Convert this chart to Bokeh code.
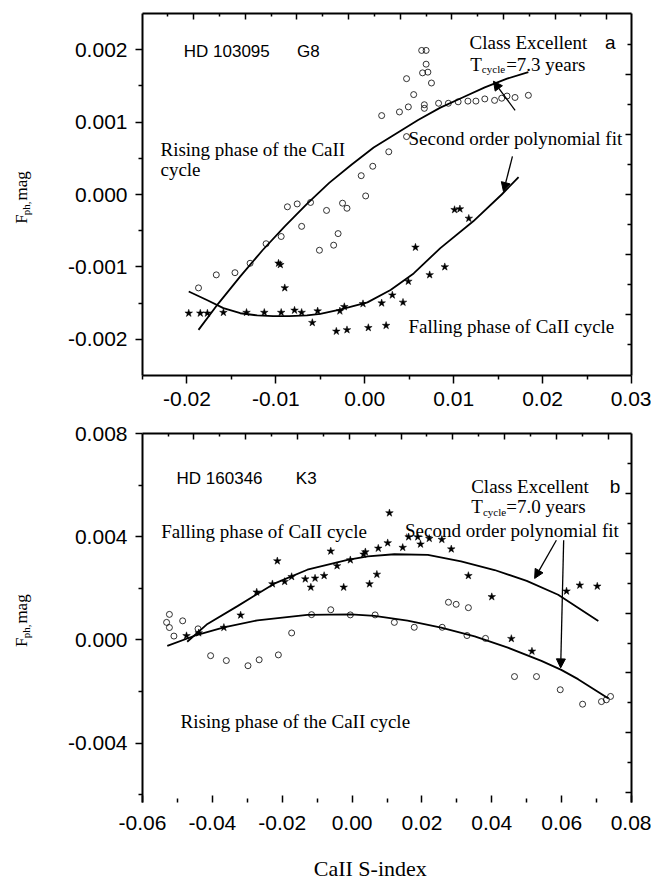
import numpy as np
from bokeh.plotting import figure
from bokeh.layouts import column, row
from bokeh.models import (Range1d, LinearAxis, FixedTicker, NumeralTickFormatter,
                          CustomJSTickFormatter, Label, Arrow, NormalHead)
from bokeh.core.properties import value
from bokeh.embed import file_html
from bokeh.resources import INLINE

# ---------------- Panel a : HD 103095 G8 ----------------
a_rise_x = [0.0064, 0.0069, 0.0069, 0.0065, 0.0071, 0.0075, 0.0047, 0.0055, 0.0019, 0.0039,
            0.0049, 0.0067, 0.0067, 0.0083, 0.0094, 0.0105, 0.0116, 0.0125, 0.0135, 0.0146,
            0.0154, 0.0160, 0.0169, 0.0184, 0.0047, 0.0027, 0.0009, -0.0004, 0.0001, -0.0087,
            -0.0076, -0.0061, -0.0043, -0.0025, -0.0020, -0.0071, -0.0094, -0.0111, -0.0129,
            -0.0030, -0.0035, -0.0051, -0.0146, -0.0167, -0.0187]
a_rise_y = [0.00199, 0.00199, 0.00180, 0.00168, 0.00169, 0.00154, 0.00160, 0.00138, 0.00109, 0.00114,
            0.00121, 0.00124, 0.00119, 0.00126, 0.00126, 0.00128, 0.00129, 0.00129, 0.00132, 0.00130,
            0.00133, 0.00136, 0.00134, 0.00137, 0.00080, 0.00059, 0.00039, 0.00026, -0.00002, -0.00017,
            -0.00013, -0.00011, -0.00022, -0.00012, -0.00019, -0.00044, -0.00058, -0.00068, -0.00095,
            -0.00054, -0.00070, -0.00077, -0.00108, -0.00111, -0.00129]

a_fall_x = [-0.0198, -0.0185, -0.0177, -0.0159, -0.0133, -0.0113, -0.0094, -0.0079, -0.0071, -0.0053,
            -0.0059, -0.0032, -0.0020, 0.0004, 0.0024, -0.0028, -0.0023, -0.0002, 0.0019, 0.0031,
            0.0043, 0.0049, 0.0073, 0.0090, 0.0057, 0.0101, 0.0107, 0.0117, -0.0097, -0.0095, -0.0090]
a_fall_y = [-0.00164, -0.00164, -0.00164, -0.00163, -0.00163, -0.00163, -0.00163, -0.00160, -0.00163, -0.00161,
            -0.00177, -0.00189, -0.00187, -0.00184, -0.00181, -0.00161, -0.00155, -0.00151, -0.00150, -0.00139,
            -0.00149, -0.00120, -0.00111, -0.00100, -0.00073, -0.00021, -0.00020, -0.00033, -0.00095, -0.00097, -0.00129]

a_fit_rise_x = [-0.0187, -0.0165, -0.0140, -0.0115, -0.0090, -0.0065, -0.0040, -0.0015, 0.0010, 0.0035,
                0.0060, 0.0085, 0.0110, 0.0135, 0.0160, 0.0184]
a_fit_rise_y = [-0.00187, -0.00151, -0.00113, -0.00077, -0.00044, -0.00013, 0.00016, 0.00041, 0.00065, 0.00084,
                0.00103, 0.00120, 0.00134, 0.00148, 0.00160, 0.00169]

a_fit_fall_x = [-0.0198, -0.0177, -0.0159, -0.0140, -0.0121, -0.0103, -0.0085, -0.0065, -0.0050, -0.0028,
                0.0003, 0.0029, 0.0055, 0.0085, 0.0122, 0.0154, 0.0173]
a_fit_fall_y = [-0.00134, -0.00146, -0.00157, -0.00164, -0.00167, -0.00168, -0.00168, -0.00167, -0.00165, -0.00159,
                -0.00149, -0.00132, -0.00109, -0.00074, -0.00037, 0.00000, 0.00024]

a_xticks = [-0.02, -0.01, 0.00, 0.01, 0.02, 0.03]
a_xminor = [-0.025, -0.015, -0.005, 0.005, 0.015, 0.025]
a_yticks = [-0.002, -0.001, 0.000, 0.001, 0.002]
a_yminor = [-0.0015, -0.0005, 0.0005, 0.0015]

# ---------------- Panel b : HD 160346 K3 ----------------
b_fall_x = [0.0107, -0.0214, -0.0061, 0.0038, 0.0033, 0.0075, 0.0102, 0.0145, 0.0162, 0.0188,
            0.0196, 0.0221, 0.0257, 0.0284, -0.0005, -0.0043, -0.0080, -0.0106, -0.0134, -0.0118,
            -0.0173, -0.0193, -0.0228, -0.0273, -0.0024, 0.0050, 0.0071, 0.0333, 0.0400, 0.0614,
            0.0652, 0.0702, -0.0319, -0.0367, -0.0474, -0.0439, 0.0456, 0.0515]
b_fall_y = [0.00492, 0.00306, 0.00344, 0.00341, 0.00332, 0.00355, 0.00376, 0.00358, 0.00399, 0.00399,
            0.00371, 0.00393, 0.00389, 0.00352, 0.00310, 0.00287, 0.00249, 0.00239, 0.00236, 0.00204,
            0.00245, 0.00226, 0.00217, 0.00185, 0.00204, 0.00217, 0.00254, 0.00249, 0.00167, 0.00189,
            0.00212, 0.00208, 0.00096, 0.00048, 0.00016, 0.00027, 0.00005, -0.00044]

b_rise_x = [-0.0531, -0.0523, -0.0523, -0.0510, -0.0485, -0.0441, -0.0405, -0.0360, -0.0298, -0.0266,
            -0.0211, -0.0173, -0.0116, -0.0061, -0.0005, 0.0066, 0.0121, 0.0178, 0.0258, 0.0329,
            0.0382, 0.0276, 0.0298, 0.0333, 0.0465, 0.0528, 0.0596, 0.0660, 0.0714, 0.0728, 0.0740]
b_rise_y = [0.00068, 0.00099, 0.00048, 0.00015, 0.00074, 0.00043, -0.00061, -0.00080, -0.00100, -0.00077,
            -0.00058, 0.00027, 0.00098, 0.00117, 0.00097, 0.00097, 0.00068, 0.00049, 0.00049, 0.00017,
            0.00006, 0.00146, 0.00138, 0.00125, -0.00142, -0.00142, -0.00193, -0.00249, -0.00239, -0.00232, -0.00219]

b_fit_fall_x = [-0.0472, -0.0414, -0.0328, -0.0223, -0.0128, -0.0013, 0.0045, 0.0121, 0.0217, 0.0312,
                0.0408, 0.0500, 0.0590, 0.0705]
b_fit_fall_y = [-0.00007, 0.00062, 0.00131, 0.00218, 0.00272, 0.00310, 0.00324, 0.00332, 0.00330, 0.00304,
                0.00271, 0.00229, 0.00175, 0.00073]

b_fit_rise_x = [-0.0529, -0.0443, -0.0367, -0.0271, -0.0128, -0.0003, 0.0064, 0.0159, 0.0255, 0.0351,
                0.0446, 0.0542, 0.0599, 0.0647, 0.0733]
b_fit_rise_y = [-0.00023, 0.00020, 0.00049, 0.00076, 0.00097, 0.00099, 0.00093, 0.00075, 0.00048, 0.00014,
                -0.00030, -0.00081, -0.00116, -0.00152, -0.00226]

b_xticks = [-0.06, -0.04, -0.02, 0.00, 0.02, 0.04, 0.06, 0.08]
b_xminor = [-0.05, -0.03, -0.01, 0.01, 0.03, 0.05, 0.07]
b_yticks = [-0.004, 0.000, 0.004, 0.008]
b_yminor = [-0.006, -0.002, 0.002, 0.006]

y_title_main = "F"
y_title_sub = "ph,"
y_title_unit = "mag"
x_title = "CaII  S-index"

SERIF = "Liberation Serif"
SANS = "Liberation Sans"
LAB_W = 42          # width of the strip that carries the rotated y title


def base_fig(xr, yr, height, top, bottom):
    p = figure(width=651 - LAB_W, height=height, x_range=Range1d(*xr), y_range=Range1d(*yr),
               min_border_left=142 - LAB_W, min_border_right=20, min_border_top=top,
               min_border_bottom=bottom, output_backend="svg", toolbar_location=None, tools="")
    p.grid.visible = False
    p.outline_line_color = None
    p.background_fill_color = "white"
    p.border_fill_color = "white"
    return p


def strip_fig(w, h):
    s = figure(width=w, height=h, x_range=Range1d(0, w), y_range=Range1d(0, h),
               min_border=0, x_axis_type=None, y_axis_type=None,
               output_backend="svg", toolbar_location=None, tools="")
    s.grid.visible = False
    s.outline_line_color = None
    s.background_fill_color = "white"
    s.border_fill_color = "white"
    return s


def style_main_axis(ax, ticks, minor, fmt, t_in, t_out, m_in, m_out, standoff, line=True):
    ax.ticker = FixedTicker(ticks=ticks, minor_ticks=minor)
    ax.formatter = NumeralTickFormatter(format=fmt)
    ax.axis_line_width = 2
    ax.axis_line_color = "black" if line else None
    ax.major_tick_line_width = 1.5
    ax.minor_tick_line_width = 1.5
    ax.major_tick_in = t_in
    ax.major_tick_out = t_out
    ax.minor_tick_in = m_in
    ax.minor_tick_out = m_out
    ax.major_label_text_font = SANS
    ax.major_label_text_font_size = "21px"
    ax.major_label_text_color = "black"
    ax.major_label_standoff = standoff


def deco_axis(p, loc, ticks, minor, t_len, m_len):
    ax = LinearAxis(ticker=FixedTicker(ticks=list(ticks), minor_ticks=list(minor)),
                    formatter=CustomJSTickFormatter(code="return ''"),
                    major_tick_in=t_len, major_tick_out=0, minor_tick_in=m_len, minor_tick_out=0,
                    axis_line_width=2, major_tick_line_width=1.5, minor_tick_line_width=1.5,
                    major_label_standoff=0)
    p.add_layout(ax, loc)


def add_text(p, text, x, y, font=SERIF, size="19px", **kw):
    p.add_layout(Label(x=x, y=y, text=text, text_font=font, text_font_size=size,
                       text_color="black", text_baseline="alphabetic", **kw))


def add_arrow(p, xs, ys, xe, ye):
    p.add_layout(Arrow(end=NormalHead(size=9, fill_color="black", line_color="black", line_width=1),
                       x_start=xs, y_start=ys, x_end=xe, y_end=ye, line_width=1.3, line_color="black"))


def ytitle_strip(h, y_start):
    # y_start: distance (px) of the start of "F" above the strip bottom
    s = strip_fig(LAB_W, h)
    s.text(x=[21], y=[y_start], text=[y_title_main], angle=np.pi / 2,
           text_font=value(SERIF), text_font_size=value("17px"),
           text_baseline="alphabetic", text_align="left", text_color="black")
    s.text(x=[25], y=[y_start + 10], text=[y_title_sub], angle=np.pi / 2,
           text_font=value(SERIF), text_font_size=value("11px"),
           text_baseline="alphabetic", text_align="left", text_color="black")
    s.text(x=[21], y=[y_start + 27], text=[y_title_unit], angle=np.pi / 2,
           text_font=value(SERIF), text_font_size=value("17px"),
           text_baseline="alphabetic", text_align="left", text_color="black")
    return s


# ---------------- build panel a ----------------
HA = 420
pa = base_fig((-0.025, 0.030), (-0.0025, 0.0025), HA, 13, 45)
style_main_axis(pa.xaxis[0], a_xticks, a_xminor, "0.00", 0, 8, 0, 4, 8)
style_main_axis(pa.yaxis[0], a_yticks, a_yminor, "0.000", 0, 7, 0, 4, 8)
a_top_major = np.linspace(-0.01924, 0.02721, 9)
deco_axis(pa, "above", a_top_major, a_top_major - 0.0029, 6, 3)
a_right_major = np.arange(-2, 3) * 0.00083
deco_axis(pa, "right", a_right_major, (np.arange(-3, 3) + 0.5) * 0.00083, 6, 4)

pa.line(a_fit_rise_x, a_fit_rise_y, line_color="black", line_width=1.8)
pa.line(a_fit_fall_x, a_fit_fall_y, line_color="black", line_width=1.8)
pa.scatter(a_rise_x, a_rise_y, marker="circle", size=6, fill_color=None,
           line_color="black", line_width=0.8)
pa.scatter(a_fall_x, a_fall_y, marker="star", size=8, fill_color="black",
           line_color="black", line_width=0.5)

add_text(pa, "HD 103095", -0.02036, 0.00197, font=SANS, size="17px")
add_text(pa, "G8", -0.00762, 0.00197, font=SANS, size="17px")
add_text(pa, "Class  Excellent", 0.01178, 0.002096)
add_text(pa, "a", 0.02702, 0.002096, font=SANS, size="19px")
add_text(pa, "T", 0.01185, 0.001796)
add_text(pa, "cycle", 0.01317, 0.001727, size="11px")
add_text(pa, "=7.3 years", 0.01590, 0.001796)
add_text(pa, "Rising phase of the CaII", -0.02298, 0.000619)
add_text(pa, "cycle", -0.02298, 0.000342)
add_text(pa, "Second order polynomial fit", 0.00492, 0.000771)
add_text(pa, "Falling phase of CaII cycle", 0.00492, -0.001828)
add_arrow(pa, 0.01691, 0.001163, 0.01447, 0.001565)
add_arrow(pa, 0.01661, 0.000526, 0.01560, 0.0000416)

ya = ytitle_strip(HA, HA - 244)

# ---------------- build panel b ----------------
HB = 427
pb = base_fig((-0.06, 0.08), (-0.0063, 0.008), HB, 13, 45)
style_main_axis(pb.xaxis[0], b_xticks, b_xminor, "0.00", 7, 0, 4, 0, 13, line=False)
style_main_axis(pb.yaxis[0], b_yticks, b_yminor, "0.000", 0, 7, 0, 4, 8)
b_top_major = np.linspace(-0.04528, 0.07332, 9)
deco_axis(pb, "above", b_top_major, b_top_major - 0.00741, 6, 3)
b_right_major = 0.005681 - np.arange(6) * 0.00232
deco_axis(pb, "right", b_right_major, b_right_major + 0.00116, 6, 4)

pb.line(b_fit_fall_x, b_fit_fall_y, line_color="black", line_width=1.8)
pb.line(b_fit_rise_x, b_fit_rise_y, line_color="black", line_width=1.8)
pb.scatter(b_rise_x, b_rise_y, marker="circle", size=6, fill_color=None,
           line_color="black", line_width=0.8)
pb.scatter(b_fall_x, b_fall_y, marker="star", size=8, fill_color="black",
           line_color="black", line_width=0.5)

add_text(pb, "HD 160346", -0.05025, 0.00625, font=SANS, size="17px")
add_text(pb, "K3", -0.01611, 0.00625, font=SANS, size="17px")
add_text(pb, "Class  Excellent", 0.0341, 0.005951)
add_text(pb, "b", 0.07378, 0.005951, font=SANS, size="19px")
add_text(pb, "T", 0.0341, 0.005178)
add_text(pb, "cycle", 0.03746, 0.004958, size="11px")
add_text(pb, "=7.0 years", 0.04414, 0.005178)
add_text(pb, "Falling phase of CaII cycle", -0.05463, 0.004185)
add_text(pb, "Second order polynomial fit", 0.01517, 0.004223)
add_text(pb, "Rising phase of the CaII cycle", -0.0491, -0.003160)
add_arrow(pb, 0.05849, 0.003864, 0.05227, 0.002383)
add_arrow(pb, 0.06058, 0.003864, 0.05972, -0.001084)

yb = ytitle_strip(HB, HA + HB - 667)

# ---------------- x title strip ----------------
HX = 882 - HA - HB
fx = strip_fig(651, HX)
fx.text(x=[372.5], y=[HX - 21], text=[x_title], text_font=value(SERIF),
        text_font_size=value("22px"), text_baseline="middle", text_align="center",
        text_color="black")

layout = column(row(ya, pa), row(yb, pb), fx)
open("out.html", "w").write(file_html(layout, INLINE))
